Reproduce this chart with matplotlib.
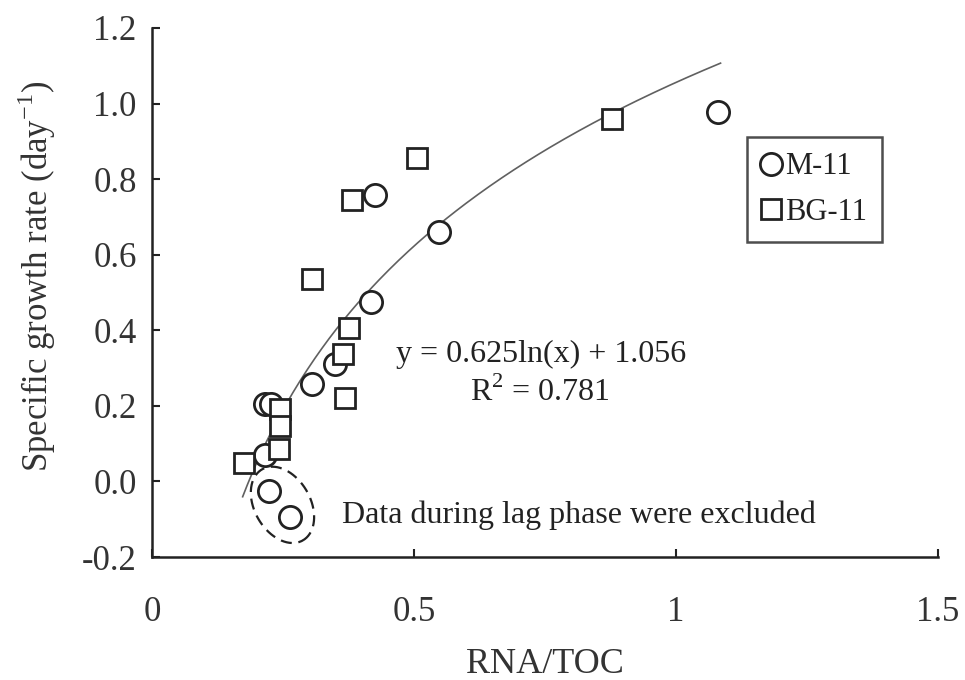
import numpy as np
import matplotlib
matplotlib.use("Agg")
import matplotlib.pyplot as plt

plt.rcParams['font.family'] = ['Liberation Serif', 'DejaVu Serif']
plt.rcParams['mathtext.fontset'] = 'custom'
plt.rcParams['mathtext.rm'] = 'Liberation Serif'

# Data
m11_x = [1.080, 0.426, 0.548, 0.418, 0.306, 0.350, 0.215, 0.228, 0.215]
m11_y = [0.979, 0.759, 0.661, 0.476, 0.259, 0.310, 0.204, 0.204, 0.069]
lag_x = [0.224, 0.264]
lag_y = [-0.026, -0.095]
bg11_x = [0.877, 0.506, 0.382, 0.306, 0.375, 0.365, 0.369, 0.245, 0.245, 0.243, 0.175]
bg11_y = [0.958, 0.857, 0.746, 0.537, 0.405, 0.336, 0.222, 0.193, 0.148, 0.087, 0.048]
fit_a, fit_b = 0.625, 1.056
fit_range = (0.173, 1.085)
x_ticks = [0, 0.5, 1, 1.5]
x_ticklabels = ['0', '0.5', '1', '1.5']
y_ticks = [-0.2, 0.0, 0.2, 0.4, 0.6, 0.8, 1.0, 1.2]
y_ticklabels = ['-0.2', '0.0', '0.2', '0.4', '0.6', '0.8', '1.0', '1.2']

fig = plt.figure(figsize=(9.65, 6.8), dpi=100)
ax = fig.add_axes([152/965, (680-557)/680, (938-152)/965, (557-28)/680])
ax.set_xlim(0, 1.5)
ax.set_ylim(-0.2, 1.2)

ax.spines['top'].set_visible(False)
ax.spines['right'].set_visible(False)
for s in ['left', 'bottom']:
    ax.spines[s].set_linewidth(1.8)
    ax.spines[s].set_color('#222222')

ax.set_xticks(x_ticks)
ax.set_xticklabels(x_ticklabels)
ax.set_yticks(y_ticks)
ax.set_yticklabels(y_ticklabels)
ax.tick_params(direction='in', length=6, width=1.5, colors='#222222',
               labelsize=25, labelcolor='#333333')
ax.tick_params(axis='x', pad=28)
ax.tick_params(axis='y', pad=11)

# fit curve
xf = np.linspace(fit_range[0], fit_range[1], 200)
ax.plot(xf, fit_a*np.log(xf) + fit_b, color='#606060', lw=1.2, zorder=2)

mk = dict(mfc='white', mec='#222222', mew=2.0, ls='none', zorder=3)
ax.plot(m11_x + lag_x, m11_y + lag_y, marker='o', ms=16, label='M-11', **mk)
ax.plot(bg11_x, bg11_y, marker='s', ms=15, label='BG-11', **mk)

# dashed ellipse around lag phase points (built in pixel units, converted to data)
cx, cy = 0.249, -0.062
sx, sy = 525.7, 378.0
t = np.linspace(0, 2*np.pi, 300)
a_px, b_px, ang = 41, 28, np.deg2rad(-60)
px = a_px*np.cos(t)*np.cos(ang) - b_px*np.sin(t)*np.sin(ang)
py = a_px*np.cos(t)*np.sin(ang) + b_px*np.sin(t)*np.cos(ang)
ax.plot(cx + px/sx, cy + py/sy, ls=(0, (5, 3)), color='#222222', lw=1.6, zorder=2)

ax.text(0.742, 0.335, 'y = 0.625ln(x) + 1.056', fontsize=23, color='#222222',
        ha='center', va='center')
ax.text(0.740, 0.235, 'R$^{2}$ = 0.781', fontsize=23, color='#222222',
        ha='center', va='center')
ax.text(0.363, -0.09, 'Data during lag phase were excluded', fontsize=23,
        color='#222222', ha='left', va='center')

ax.set_xlabel('RNA/TOC', fontsize=26, color='#333333', labelpad=14)
ax.set_ylabel('Specific growth rate (day$^{\\mathregular{-1}}$)', fontsize=25,
              color='#333333')
ax.yaxis.set_label_coords(-0.119, 0.53)

leg = ax.legend(loc='upper left', bbox_to_anchor=((747-152)/786, (557-137)/529),
                fontsize=22, frameon=True, fancybox=False, handlelength=0.6,
                handletextpad=0.15, borderpad=0.5, labelspacing=0.55,
                markerscale=1.0, borderaxespad=0)
leg.get_frame().set_edgecolor('#222222')
leg.get_frame().set_linewidth(1.8)
for t_ in leg.get_texts():
    t_.set_color('#222222')

fig.savefig('out.png', dpi=100, facecolor='white')
